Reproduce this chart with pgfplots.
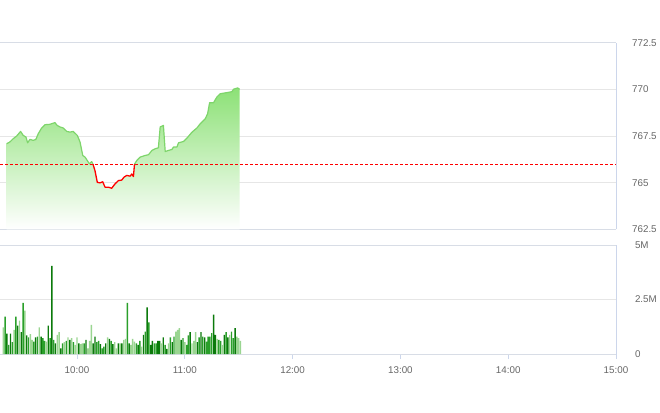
\documentclass[border=0pt]{standalone}
\usepackage{pgfplots}
\pgfplotsset{compat=1.18}
\usepackage{fontspec}
\setmainfont{Liberation Sans}
\definecolor{lblc}{HTML}{666666}
\definecolor{gridc}{HTML}{E6E6E6}
\definecolor{framec}{HTML}{D8DDE6}
\definecolor{tickc}{HTML}{CCD6EB}
\definecolor{upline}{HTML}{7ED56B}
\definecolor{upfill}{HTML}{8CE176}
\definecolor{vold}{HTML}{0B7A0B}
\definecolor{volm}{HTML}{2A9F2A}
\definecolor{voll}{HTML}{9AD591}
\pgfplotsset{
  panel/.style={
    scale only axis, xmin=17.14, xmax=360,
    axis x line=box, axis y line=right, axis line style={-},
    x axis line style={draw=framec, line width=1pt},
    y axis line style={draw=tickc, line width=1pt},
    ymajorgrids, grid style={gridc, line width=1pt},
    ytick style={draw=none},
    yticklabel style={font=\fontsize{9.8}{11}\selectfont, text=lblc, xshift=10.5pt},
    xticklabel style={font=\fontsize{9.8}{11}\selectfont, text=lblc},
  }
}
\begin{document}
\begin{tikzpicture}
\path[use as bounding box] (0,0) rectangle (660pt,412pt);
\begin{axis}[panel, at={(0pt,182.5pt)}, anchor=south west, width=616pt, height=186.5pt,
  ymin=762.5, ymax=772.5, ytick={762.5,765,767.5,770,772.5},
  yticklabels={762.5,765,767.5,770,772.5}, xtick=\empty]
\addplot[draw=none, top color=upfill, bottom color=white] table {
x y
20.8 762.5
20.8 767.10
22.6 767.19
24.5 767.37
26.4 767.51
28.6 767.76
30.1 767.54
31.6 767.46
32.5 767.15
33.8 767.33
35.6 767.28
37.1 767.33
38.4 767.63
40.3 767.94
42.2 768.12
44.9 768.14
47.7 768.23
49.0 768.08
50.5 768.00
52.4 767.94
54.3 767.76
56.1 767.72
57.9 767.76
60.2 767.54
61.7 767.19
63.2 766.47
64.5 766.38
65.7 766.20
66.9 766.02
68.2 766.14
68.9 766.00
70.0 765.66
71.3 765.03
72.8 765.00
74.3 765.06
75.6 764.77
77.5 764.77
79.3 764.71
81.2 764.95
83.0 765.12
84.9 765.15
86.2 765.31
87.7 765.40
89.6 765.36
90.5 765.48
91.4 765.34
92.0 766.00
93.3 766.20
95.1 766.38
97.9 766.47
99.8 766.51
101.7 766.74
103.5 766.83
105.3 766.88
106.3 768.00
108.1 768.08
109.1 766.68
110.9 766.74
112.8 766.79
113.7 766.92
115.6 766.92
116.5 767.15
119.3 767.22
121.2 767.40
124.0 767.72
126.7 767.94
128.6 768.17
131.4 768.44
132.7 768.71
133.8 769.30
136.0 769.30
137.9 769.61
139.7 769.78
143.5 769.84
146.2 769.89
147.1 770.02
149.4 770.09
150.5 770.02
150.5 762.5
};
\addplot[red, line width=1pt, dash pattern=on 3pt off 2pt] coordinates {(17.14,766) (360,766)};
\addplot[upline, line width=1.2pt, line join=round] table {
x y
20.8 767.10
22.6 767.19
24.5 767.37
26.4 767.51
28.6 767.76
30.1 767.54
31.6 767.46
32.5 767.15
33.8 767.33
35.6 767.28
37.1 767.33
38.4 767.63
40.3 767.94
42.2 768.12
44.9 768.14
47.7 768.23
49.0 768.08
50.5 768.00
52.4 767.94
54.3 767.76
56.1 767.72
57.9 767.76
60.2 767.54
61.7 767.19
63.2 766.47
64.5 766.38
65.7 766.20
66.9 766.02
68.2 766.14
68.9 766.00
};
\addplot[red, line width=1.3pt, line join=round] table {
x y
68.9 766.00
70.0 765.66
71.3 765.03
72.8 765.00
74.3 765.06
75.6 764.77
77.5 764.77
79.3 764.71
81.2 764.95
83.0 765.12
84.9 765.15
86.2 765.31
87.7 765.40
89.6 765.36
90.5 765.48
91.4 765.34
92.0 766.00
};
\addplot[upline, line width=1.2pt, line join=round] table {
x y
92.0 766.00
93.3 766.20
95.1 766.38
97.9 766.47
99.8 766.51
101.7 766.74
103.5 766.83
105.3 766.88
106.3 768.00
108.1 768.08
109.1 766.68
110.9 766.74
112.8 766.79
113.7 766.92
115.6 766.92
116.5 767.15
119.3 767.22
121.2 767.40
124.0 767.72
126.7 767.94
128.6 768.17
131.4 768.44
132.7 768.71
133.8 769.30
136.0 769.30
137.9 769.61
139.7 769.78
143.5 769.84
146.2 769.89
147.1 770.02
149.4 770.09
150.5 770.02
};
\end{axis}
\begin{axis}[panel, at={(0pt,58pt)}, anchor=south west, width=616pt, height=109pt,
  ymin=0, ymax=5, ytick={0,2.5,5}, yticklabels={0,2.5M,5M},
  xtick={60,120,180,240,300,360},
  xticklabels={10:00,11:00,12:00,13:00,14:00,15:00},
  xtick pos=left, tick align=outside, major tick length=5pt,
  xtick style={draw=tickc, line width=1pt},
  xticklabel style={yshift=-4.5pt}]
\addplot[ybar, bar width=0.8, bar shift=0pt, fill=vold, draw=none] coordinates {
(21,0.94) (23,0.94) (27,1.30) (29,1.00) (32,0.85) (37,0.76) (40,0.80) (44,1.30) (46,4.04) (48,0.49)
(51,0.26) (56,0.65) (61,0.49) (65,0.65) (69,0.49) (70,0.80) (73,0.45) (76,0.49) (78,0.69) (80,0.45)
(83,0.49) (85,0.49) (89,0.49) (94,0.42) (97,0.88) (99,2.14) (101,0.42) (102,0.60) (105,0.60) (106,0.60)
(108,0.76) (110,0.23) (113,0.54) (118,0.65) (123,1.00) (127,0.54) (129,1.00) (131,0.76) (136,1.81) (137,0.88)
(142,0.88) (144,0.76) (148,1.19)};
\addplot[ybar, bar width=0.8, bar shift=0pt, fill=volm, draw=none] coordinates {
(20,1.71) (22,0.42) (24,0.54) (26,1.71) (30,2.35) (33,0.76) (36,0.57) (38,0.80) (41,0.73) (42,0.60)
(45,0.73) (47,0.65) (52,0.49) (54,0.60) (58,0.54) (64,0.49) (71,0.54) (72,0.60) (74,0.26) (75,0.34)
(79,0.60) (88,2.35) (93,0.49) (95,0.60) (98,1.03) (100,1.45) (103,0.49) (104,0.49) (109,0.42) (112,0.76)
(114,0.80) (119,0.73) (121,0.42) (122,0.85) (128,0.76) (130,0.80) (132,0.57) (133,0.80) (134,0.80) (135,0.96)
(139,0.65) (140,0.60) (143,1.00) (146,1.03) (147,0.73)};
\addplot[ybar, bar width=0.8, bar shift=0pt, fill=voll, draw=none] coordinates {
(19,1.22) (25,1.11) (28,1.53) (31,1.99) (34,0.91) (35,0.65) (39,1.22) (43,0.57) (49,0.88) (50,1.00)
(53,0.54) (55,0.76) (57,0.73) (59,0.42) (60,0.76) (62,0.45) (63,0.49) (66,0.26) (67,0.60) (68,1.34)
(77,0.76) (81,0.54) (82,0.26) (84,0.49) (86,0.65) (87,0.69) (90,0.42) (91,0.69) (92,0.57) (96,0.34)
(107,0.49) (111,0.49) (115,1.03) (116,1.11) (117,1.19) (120,0.54) (124,0.49) (125,0.60) (126,1.00) (138,0.69)
(141,0.42) (145,0.88) (149,0.80) (150,0.73) (151,0.60)};
\end{axis}
\end{tikzpicture}
\end{document}
